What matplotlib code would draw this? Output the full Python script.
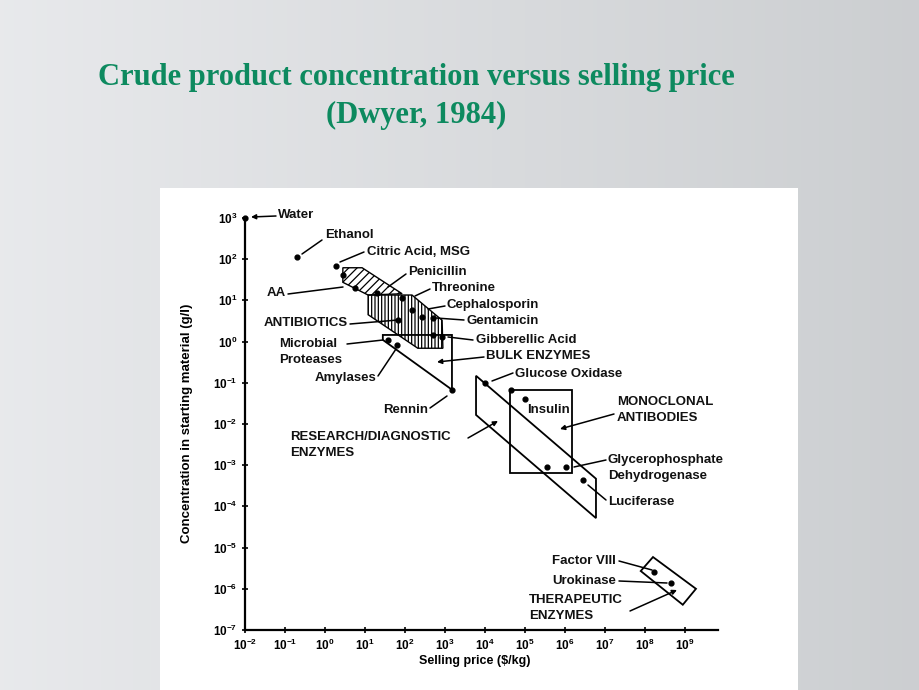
import matplotlib
matplotlib.use("Agg")
import matplotlib.pyplot as plt
import numpy as np
from matplotlib.patches import Polygon, Rectangle
from matplotlib.ticker import LogLocator, NullLocator

plt.rcParams["font.family"] = ["Liberation Sans", "DejaVu Sans"]
plt.rcParams["mathtext.default"] = "regular"
plt.rcParams["hatch.linewidth"] = 0.9

# products: selling price ($/kg) and crude concentration (g/l)
names = ["Water", "Ethanol", "Citric Acid, MSG", "AA 1", "AA 2",
         "Penicillin", "Threonine", "Cephalosporin", "Cephalosporin 2", "Antibiotic",
         "Gentamicin", "Gibberellic Acid 1", "Gibberellic Acid 2",
         "Microbial Proteases", "Amylases", "Rennin", "Glucose Oxidase",
         "Monoclonal 1", "Insulin", "Monoclonal 2", "Glycerophosphate Dehydrogenase",
         "Luciferase", "Factor VIII", "Urokinase"]
price = [1e-2, 0.2, 1.9, 2.8, 5.6,
         20, 85, 150, 270, 68,
         500, 500, 850,
         38, 63, 1500, 1e4,
         4.5e4, 1e5, 3.5e5, 1.07e6,
         2.8e6, 1.7e8, 4.5e8]
conc = [1000, 110, 68, 42, 20,
        15, 11.5, 5.9, 4.0, 3.3,
        3.7, 1.45, 1.3,
        1.1, 0.83, 0.068, 0.1,
        0.068, 0.041, 9.1e-4, 9.1e-4,
        4.4e-4, 2.6e-6, 1.4e-6]

# grouped regions
aa_x = [2.8, 8.5, 85, 12, 2.8]
aa_y = [62, 62, 14.5, 13.5, 27.5]
antibiotics_x = [12, 150, 850, 890, 210, 12]
antibiotics_y = [13.5, 13.5, 3.3, 0.69, 0.69, 4.5]
bulk_x = [28, 1500, 1500, 28]
bulk_y = [1.45, 1.45, 0.068, 1.1]
research_x = [6000, 6000, 6e6, 6e6]
research_y = [0.148, 0.0166, 5.2e-5, 4.7e-4]
mab_x = [4.3e4, 1.5e6]
mab_y = [0.068, 6.5e-4]
thera_x = [1.6e8, 1.9e9, 8.9e8, 7.9e7]
thera_y = [5.9e-6, 1e-6, 4.1e-7, 2.7e-6]

W, H = 920, 690
fig = plt.figure(figsize=(W / 100, H / 100), dpi=100)

# slide background
bg = fig.add_axes([0, 0, 1, 1])
grad = np.linspace(0, 1, 256)
img = np.zeros((2, 256, 3))
left_c = np.array([0.91, 0.915, 0.925])
right_c = np.array([0.80, 0.81, 0.82])
for i in range(3):
    img[:, :, i] = left_c[i] + (right_c[i] - left_c[i]) * grad
bg.imshow(img, aspect="auto", extent=[0, 1, 0, 1])
bg.add_patch(Rectangle((160 / W, 0), (798 - 160) / W, (H - 188) / H,
                       facecolor="white", edgecolor="none"))
bg.set_xlim(0, 1)
bg.set_ylim(0, 1)
bg.axis("off")

title_kw = dict(ha="center", va="center", fontsize=22, fontweight="bold",
                family="Liberation Serif", color="#0d8a5f")
fig.text(416 / W, 1 - 78 / H, "Crude product concentration versus selling price", **title_kw)
fig.text(416 / W, 1 - 115 / H, "(Dwyer, 1984)", **title_kw)

ax = fig.add_axes([245 / W, 60 / H, (718 - 245) / W, (630 - 218) / H])
ax.set_xscale("log")
ax.set_yscale("log")
ax.set_xlim(1e-2, 10 ** 9.83)
ax.set_ylim(1e-7, 1e3)
ax.patch.set_alpha(0)
for s in ["top", "right"]:
    ax.spines[s].set_visible(False)
for s in ["left", "bottom"]:
    ax.spines[s].set_linewidth(1.6)
ax.xaxis.set_major_locator(LogLocator(base=10, numticks=20))
ax.yaxis.set_major_locator(LogLocator(base=10, numticks=20))
ax.xaxis.set_minor_locator(NullLocator())
ax.yaxis.set_minor_locator(NullLocator())
ax.tick_params(direction="inout", length=5, width=1.2, labelsize=8.5, pad=3)
ax.set_xticks([10.0 ** k for k in range(-2, 10)])
for lab in ax.get_xticklabels() + ax.get_yticklabels():
    lab.set_fontweight("bold")

# regions
ax.add_patch(Polygon(list(zip(aa_x, aa_y)), closed=True, facecolor="none",
                     edgecolor="black", lw=1.0, hatch="////"))
ax.add_patch(Polygon(list(zip(antibiotics_x, antibiotics_y)), closed=True,
                     facecolor="none", edgecolor="black", lw=1.0, hatch="|||||"))
for px_, py_ in [(bulk_x, bulk_y), (research_x, research_y), (thera_x, thera_y)]:
    ax.add_patch(Polygon(list(zip(px_, py_)), closed=True, facecolor="none",
                         edgecolor="black", lw=1.3))
ax.add_patch(Polygon([(mab_x[0], mab_y[0]), (mab_x[1], mab_y[0]),
                      (mab_x[1], mab_y[1]), (mab_x[0], mab_y[1])],
                     closed=True, facecolor="none", edgecolor="black", lw=1.3))

ax.scatter(price, conc, s=12, color="black", zorder=5, clip_on=False)


def fp(x, y):
    return (x, H - y)


# labels: (text, x, y, ha) in slide pixels
labels = [
    ("Water", 278, 215, "left"),
    ("Ethanol", 325, 235, "left"),
    ("Citric Acid, MSG", 367, 252, "left"),
    ("Penicillin", 408, 272, "left"),
    ("Threonine", 432, 288, "left"),
    ("Cephalosporin", 447, 305, "left"),
    ("Gentamicin", 467, 321, "left"),
    ("Gibberellic Acid", 476, 340, "left"),
    ("BULK ENZYMES", 486, 356, "left"),
    ("Glucose Oxidase", 515, 374, "left"),
    ("Insulin", 527, 410, "left"),
    ("MONOCLONAL\nANTIBODIES", 617, 410, "left"),
    ("Glycerophosphate\nDehydrogenase", 608, 468, "left"),
    ("Luciferase", 608, 502, "left"),
    ("AA", 286, 293, "right"),
    ("ANTIBIOTICS", 348, 323, "right"),
    ("Microbial\nProteases", 279, 352, "left"),
    ("Amylases", 376, 378, "right"),
    ("Rennin", 428, 410, "right"),
    ("RESEARCH/DIAGNOSTIC\nENZYMES", 290, 445, "left"),
    ("Factor VIII", 616, 561, "right"),
    ("Urokinase", 616, 581, "right"),
    ("THERAPEUTIC\nENZYMES", 529, 608, "left"),
]
for t, x, y, ha in labels:
    fig.text(x / W, 1 - y / H, t, ha=ha, va="center", fontsize=9.5,
             fontweight="bold", linespacing=1.35, color="#111111")

# leader lines: (start px, end px, arrow)
leaders = [
    ((276, 216), (251, 217), True),
    ((322, 240), (302, 254), False),
    ((364, 252), (340, 262), False),
    ((406, 274), (388, 287), False),
    ((430, 289), (415, 296), False),
    ((445, 306), (428, 309), False),
    ((464, 320), (436, 318), False),
    ((473, 340), (448, 337), False),
    ((484, 357), (437, 362), True),
    ((513, 373), (492, 381), False),
    ((614, 414), (560, 429), True),
    ((606, 460), (574, 467), False),
    ((606, 500), (588, 485), False),
    ((288, 294), (343, 287), False),
    ((350, 324), (398, 320), False),
    ((347, 344), (383, 340), False),
    ((378, 376), (396, 349), False),
    ((430, 408), (447, 396), False),
    ((468, 438), (498, 421), True),
    ((619, 561), (652, 570), False),
    ((619, 581), (667, 583), False),
    ((630, 611), (677, 590), True),
]
for (x0, y0), (x1, y1), arrow in leaders:
    ax.annotate("", xy=fp(x1, y1), xycoords="figure pixels",
                xytext=fp(x0, y0), textcoords="figure pixels",
                arrowprops=dict(arrowstyle="-|>" if arrow else "-",
                                mutation_scale=7, lw=1.1, color="black",
                                shrinkA=0, shrinkB=0),
                annotation_clip=False)

fig.text(475 / W, 1 - 661 / H, r"Selling price (\$/kg)", ha="center", va="center",
         fontsize=9, fontweight="bold")
fig.text(187 / W, 1 - 423 / H, "Concentration in starting material (g/l)",
         ha="center", va="center", rotation=90, fontsize=9.5, fontweight="bold")

fig.savefig("out.png", dpi=100)
